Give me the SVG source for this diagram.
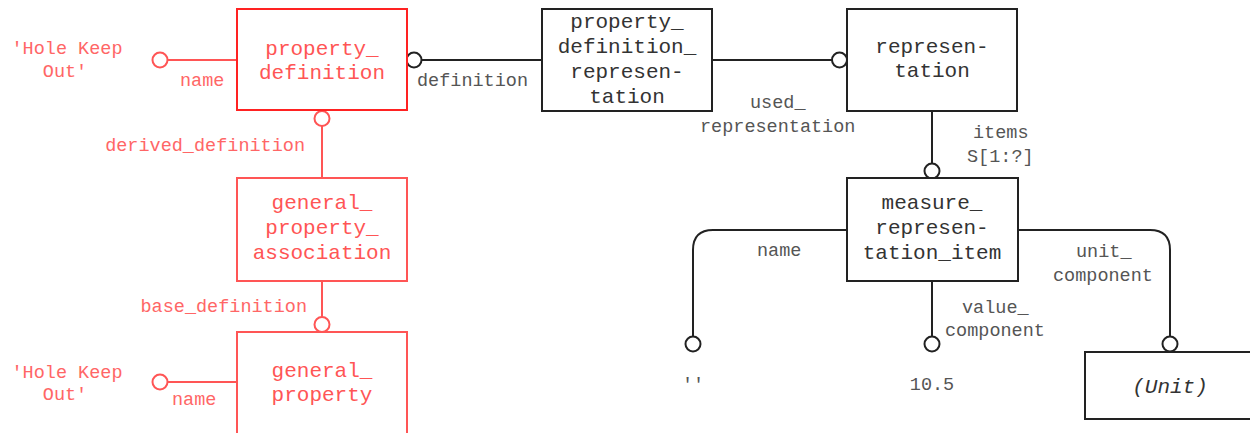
<svg xmlns="http://www.w3.org/2000/svg" width="1250" height="433" viewBox="0 0 1250 433">
<style>
text{font-family:"Liberation Mono","Courier New",monospace;}
.bt{font-size:21px;text-anchor:middle;fill:#333;}
.rbt{font-size:21px;text-anchor:middle;fill:#f55;}
.lb{font-size:18.5px;fill:#555;}
.rlb{font-size:18.5px;fill:#f66;}
.box{fill:#fff;stroke:#222;stroke-width:2;}
.rbox{fill:#fff;stroke:#f55;stroke-width:2;}
.rbox1{fill:#fff;stroke:#f22;stroke-width:2;}
.ln{fill:none;stroke:#222;stroke-width:2;}
.rln{fill:none;stroke:#f55;stroke-width:2;}
.c{fill:#fff;stroke:#222;stroke-width:2;}
.rc{fill:#fff;stroke:#f55;stroke-width:2;}
</style>
<g id="connectors">
<line class="rln" x1="167.5" y1="60" x2="237" y2="60"/>
<circle class="rc" cx="160" cy="60" r="7.5"/>
<line class="rln" x1="322" y1="126" x2="322" y2="178"/>
<circle class="rc" cx="322" cy="118.5" r="7.5"/>
<line class="rln" x1="322" y1="281" x2="322" y2="317"/>
<circle class="rc" cx="322" cy="324.5" r="7.5"/>
<line class="rln" x1="167.5" y1="382" x2="237" y2="382"/>
<circle class="rc" cx="160" cy="382" r="7.5"/>
<line class="ln" x1="421.5" y1="60" x2="542" y2="60"/>
<circle class="c" cx="414" cy="60" r="7.5"/>
<line class="ln" x1="712" y1="60" x2="832" y2="60"/>
<circle class="c" cx="839.5" cy="60" r="7.5"/>
<line class="ln" x1="932" y1="111" x2="932" y2="163.5"/>
<circle class="c" cx="932" cy="171" r="7.5"/>
<path class="ln" d="M847,230 H713 Q693,230 693,250 V336.5"/>
<circle class="c" cx="693" cy="344" r="7.5"/>
<line class="ln" x1="932" y1="281" x2="932" y2="336.5"/>
<circle class="c" cx="932" cy="344" r="7.5"/>
<path class="ln" d="M1018,230 H1150 Q1170,230 1170,250 V336.5"/>
<circle class="c" cx="1170" cy="344" r="7.5"/>
</g>
<g id="labels">
<text class="rlb" x="67" y="54" text-anchor="middle">'Hole Keep</text>
<text class="rlb" x="65" y="77" text-anchor="middle">Out'</text>
<text class="rlb" x="180" y="86">name</text>
<text class="rlb" x="305" y="151" text-anchor="end">derived_definition</text>
<text class="rlb" x="307" y="312" text-anchor="end">base_definition</text>
<text class="rlb" x="67" y="378" text-anchor="middle">'Hole Keep</text>
<text class="rlb" x="65" y="400" text-anchor="middle">Out'</text>
<text class="rlb" x="172" y="405">name</text>
<text class="lb" x="417" y="86">definition</text>
<text class="lb" x="750" y="108">used_</text>
<text class="lb" x="700" y="132">representation</text>
<text class="lb" x="973" y="138">items</text>
<text class="lb" x="967" y="162">S[1:?]</text>
<text class="lb" x="757" y="256">name</text>
<text class="lb" x="1076" y="257">unit_</text>
<text class="lb" x="1053" y="281">component</text>
<text class="lb" x="962" y="313">value_</text>
<text class="lb" x="945" y="336">component</text>
<text class="lb" x="693" y="390" text-anchor="middle">''</text>
<text class="lb" x="932" y="390" text-anchor="middle">10.5</text>
</g>
<g id="property_definition">
<rect class="rbox1" x="237" y="9" width="170" height="101"/>
<text class="rbt" x="322" y="55">property_</text>
<text class="rbt" x="322" y="79">definition</text>
</g>
<g id="general_property_association">
<rect class="rbox" x="237" y="178" width="170" height="103"/>
<text class="rbt" x="322" y="209">general_</text>
<text class="rbt" x="322" y="234">property_</text>
<text class="rbt" x="322" y="259">association</text>
</g>
<g id="general_property">
<rect class="rbox" x="237" y="332" width="170" height="110"/>
<text class="rbt" x="322" y="377">general_</text>
<text class="rbt" x="322" y="401">property</text>
</g>
<g id="property_definition_representation">
<rect class="box" x="542" y="9" width="170" height="102"/>
<text class="bt" x="627" y="28">property_</text>
<text class="bt" x="627" y="53">definition_</text>
<text class="bt" x="627" y="78">represen-</text>
<text class="bt" x="627" y="103">tation</text>
</g>
<g id="representation">
<rect class="box" x="847" y="9" width="170" height="102"/>
<text class="bt" x="932" y="53">represen-</text>
<text class="bt" x="932" y="77">tation</text>
</g>
<g id="measure_representation_item">
<rect class="box" x="847" y="178" width="171" height="103"/>
<text class="bt" x="932" y="209">measure_</text>
<text class="bt" x="932" y="234">represen-</text>
<text class="bt" x="932" y="259">tation_item</text>
</g>
<g id="unit">
<rect class="box" x="1085" y="352" width="175" height="67"/>
<text class="bt" x="1170" y="393" font-style="italic">(Unit)</text>
</g>
</svg>
